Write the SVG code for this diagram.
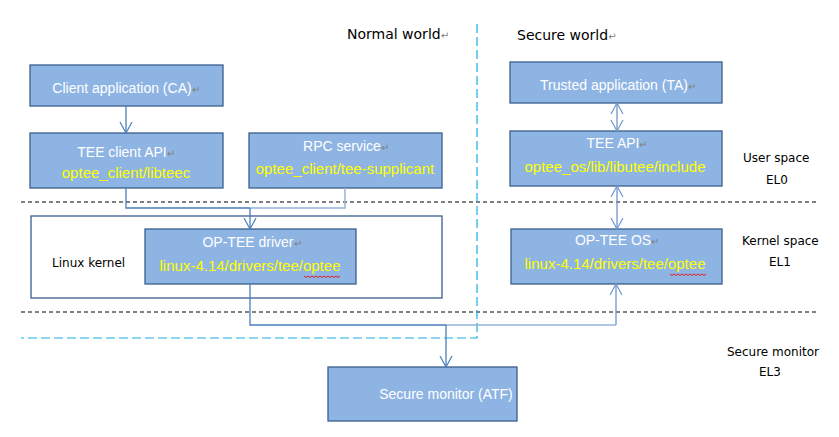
<svg xmlns="http://www.w3.org/2000/svg" width="839" height="437" viewBox="0 0 839 437">
<defs>
<marker id="arr" markerUnits="userSpaceOnUse" markerWidth="14" markerHeight="14" refX="11" refY="6" orient="auto-start-reverse" viewBox="0 0 14 12">
<path d="M0,0 L11,6 L0,12" fill="none" stroke="#4A7EBB" stroke-width="1.2"/>
</marker>
<marker id="arr2" markerUnits="userSpaceOnUse" markerWidth="14" markerHeight="14" refX="11" refY="6" orient="auto-start-reverse" viewBox="0 0 14 12">
<path d="M0,0 L11,6 L0,12" fill="none" stroke="#6F97CC" stroke-width="1.2"/>
</marker>
</defs>
<style>
.box{fill:#8EB4E3;stroke:#3A5F8C;stroke-width:1.3}
.frame{fill:none;stroke:#3A5F8C;stroke-width:1.3}
.t{font-family:"Liberation Sans",Arial,sans-serif;font-size:14px;fill:#FFFFFF;text-anchor:middle}
.p{font-family:"Liberation Sans",Arial,sans-serif;font-size:15px;fill:#FFFF00;text-anchor:middle}
.lab{font-family:"DejaVu Sans",Verdana,sans-serif;font-size:12px;fill:#000000}
.w{font-family:"DejaVu Sans",Verdana,sans-serif;font-size:14px;fill:#000000}
.rm{fill:#808080;font-size:10px}
.dash{stroke:#000;stroke-width:1;stroke-dasharray:4 3;fill:none}
.bdash{stroke:#1AAEE8;stroke-width:1.2;stroke-dasharray:9 4;fill:none}
.c{fill:none;stroke:#4A7EBB;stroke-width:1.3}
.c2{fill:none;stroke:#6F97CC;stroke-width:1.3}
.c3{fill:none;stroke:#95B3D7;stroke-width:1.5}
.sq{fill:none;stroke:#E02020;stroke-width:1}
</style>

<g id="separators">
<line class="dash" x1="21" y1="202" x2="818" y2="202"/>
<line class="dash" x1="21" y1="312" x2="818" y2="312"/>
<path class="bdash" d="M477,24 V338 H21"/>
</g>

<g id="world-labels">
<text class="w" x="347" y="39">Normal world<tspan class="rm">↵</tspan></text>
<text class="w" x="517" y="40">Secure world<tspan class="rm">↵</tspan></text>
</g>

<g id="level-labels">
<text class="lab" x="743" y="162">User space</text>
<text class="lab" x="766" y="184">EL0</text>
<text class="lab" x="742" y="245">Kernel space</text>
<text class="lab" x="769" y="266">EL1</text>
<text class="lab" x="727" y="356">Secure monitor</text>
<text class="lab" x="759" y="376">EL3</text>
</g>

<g id="linux-kernel">
<rect class="frame" x="31" y="216" width="411" height="82"/>
<text class="lab" x="52" y="267">Linux kernel</text>
</g>

<g id="client-application">
<rect class="box" x="30" y="65" width="193" height="41"/>
<text class="t" x="126" y="93">Client application (CA)<tspan class="rm">↵</tspan></text>
</g>

<g id="tee-client-api">
<rect class="box" x="30" y="133" width="193" height="55"/>
<text class="t" x="126" y="157">TEE client API<tspan class="rm">↵</tspan></text>
<text class="p" x="126" y="178">optee_client/libteec</text>
</g>

<g id="rpc-service">
<rect class="box" x="249" y="133" width="193" height="55"/>
<text class="t" x="346" y="151">RPC service<tspan class="rm">↵</tspan></text>
<text class="p" x="345" y="174">optee_client/tee-supplicant</text>
</g>

<g id="trusted-application">
<rect class="box" x="510" y="62" width="212" height="41"/>
<text class="t" x="618" y="90">Trusted application (TA)<tspan class="rm">↵</tspan></text>
</g>

<g id="tee-api">
<rect class="box" x="510" y="131" width="212" height="55"/>
<text class="t" x="617" y="148">TEE API<tspan class="rm">↵</tspan></text>
<text class="p" x="615" y="172">optee_os/lib/libutee/include</text>
</g>

<g id="optee-driver">
<rect class="box" x="145" y="229" width="211" height="55"/>
<text class="t" x="252" y="247">OP-TEE driver<tspan class="rm">↵</tspan></text>
<text class="p" x="250" y="271">linux-4.14/drivers/tee/optee</text>
<path class="sq" d="M304,276 l2,1.5 l2,-1.5 l2,1.5 l2,-1.5 l2,1.5 l2,-1.5 l2,1.5 l2,-1.5 l2,1.5 l2,-1.5 l2,1.5 l2,-1.5 l2,1.5 l2,-1.5 l2,1.5 l2,-1.5 l2,1.5 l2,-1.5"/>
</g>

<g id="optee-os">
<rect class="box" x="511" y="229" width="211" height="55"/>
<text class="t" x="617" y="245">OP-TEE OS<tspan class="rm">↵</tspan></text>
<text class="p" x="615" y="269">linux-4.14/drivers/tee/optee</text>
<path class="sq" d="M670,274 l2,1.5 l2,-1.5 l2,1.5 l2,-1.5 l2,1.5 l2,-1.5 l2,1.5 l2,-1.5 l2,1.5 l2,-1.5 l2,1.5 l2,-1.5 l2,1.5 l2,-1.5 l2,1.5 l2,-1.5 l2,1.5 l2,-1.5"/>
</g>

<g id="secure-monitor">
<rect class="box" x="328" y="367" width="189" height="54"/>
<text class="t" x="446" y="399">Secure monitor (ATF)</text>
</g>

<g id="connectors">
<path class="c" d="M126,106 V133" marker-end="url(#arr)"/>
<path class="c" d="M126,188 V208 H250"/>
<path class="c3" d="M250,208 H345 V188"/>
<path class="c" d="M250,208 V229" marker-end="url(#arr)"/>
<path class="c" d="M250,284 V325 H446"/>
<path class="c3" d="M446,325 H616"/>
<path class="c2" d="M616,325 V284" marker-end="url(#arr2)"/>
<path class="c" d="M446,325 V367" marker-end="url(#arr)"/>
<path class="c2" d="M617,103 V131" marker-start="url(#arr2)" marker-end="url(#arr2)"/>
<path class="c2" d="M617,186 V229" marker-start="url(#arr2)" marker-end="url(#arr2)"/>
</g>
</svg>
